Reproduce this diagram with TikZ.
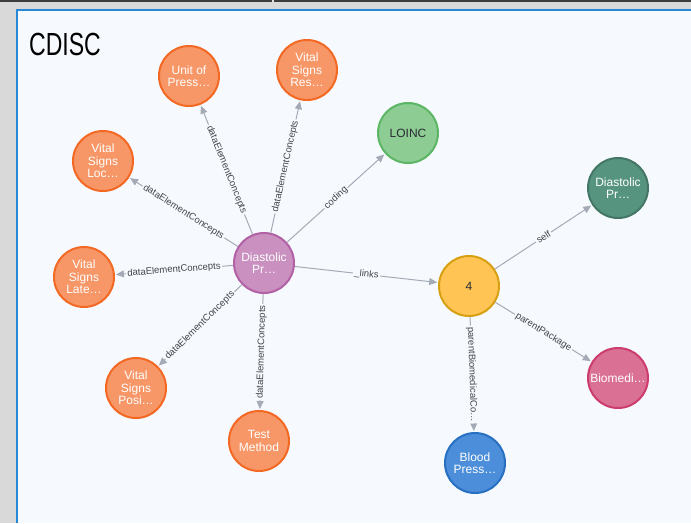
\documentclass[tikz,border=0pt]{standalone}
\usepackage{fontspec}
\setmainfont{Liberation Sans}
\newfontfamily\titlefont[FakeStretch=0.72]{Liberation Sans}
\usetikzlibrary{arrows.meta}

% frame and canvas colours
\definecolor{panelbg}{RGB}{246,250,254}
\definecolor{framegray}{RGB}{217,217,217}
\definecolor{topbar}{RGB}{60,60,60}
\definecolor{frameblue}{RGB}{40,136,214}
% graph colours
\definecolor{edgegray}{RGB}{165,171,182}
\definecolor{labelgray}{RGB}{68,68,72}
\definecolor{darktext}{RGB}{42,44,52}
\definecolor{orangeF}{HTML}{F79767}\definecolor{orangeD}{HTML}{F36924}
\definecolor{purpleF}{HTML}{C990C0}\definecolor{purpleD}{HTML}{B261A5}
\definecolor{greenF}{HTML}{8DCC93}\definecolor{greenD}{HTML}{5DB665}
\definecolor{yellowF}{HTML}{FFC454}\definecolor{yellowD}{HTML}{D7A013}
\definecolor{teal}{HTML}{569480}\definecolor{tealD}{HTML}{447666}
\definecolor{pinkF}{HTML}{DA7194}\definecolor{pinkD}{HTML}{CC3C6C}
\definecolor{blueF}{HTML}{4C8EDA}\definecolor{blueD}{HTML}{2870C2}

\tikzset{
  gnode/.style={circle, minimum size=60pt, inner sep=0pt, line width=2pt,
    align=center, text=white, font=\fontsize{12}{12.5}\selectfont},
  orangenode/.style={gnode, fill=orangeF, draw=orangeD},
  purplenode/.style={gnode, fill=purpleF, draw=purpleD},
  greennode/.style={gnode, fill=greenF, draw=greenD, text=darktext},
  yellownode/.style={gnode, fill=yellowF, draw=yellowD, text=darktext},
  tealnode/.style={gnode, fill=teal, draw=tealD},
  pinknode/.style={gnode, fill=pinkF, draw=pinkD},
  bluenode/.style={gnode, fill=blueF, draw=blueD},
  rel/.style={draw=edgegray, line width=1pt,
    -{Triangle[length=8pt,width=7pt]}, shorten >=1pt},
  elabel/.style={midway, sloped, fill=panelbg, inner sep=1.5pt,
    text=labelgray, font=\fontsize{9.5}{10}\selectfont}
}

\begin{document}
\begin{tikzpicture}[x=1pt,y=-1pt]
\useasboundingbox (0,0) rectangle (691,523);

% window frame
\fill[framegray] (0,0) rectangle (691,523);
\fill[topbar] (0,0) rectangle (691,2);
\fill[framegray!80!white] (272,0) rectangle (274,2);
\fill[panelbg] (17,10) rectangle (691,523);
\draw[frameblue, line width=2pt] (17,523) -- (17,10) -- (691,10);

% title
\node[anchor=base west, inner sep=0pt, text=black,
  font=\titlefont\fontsize{32}{32}\selectfont] (title) at (29,55) {CDISC};

% nodes
\node[purplenode] (diast)  at (264,263) {Diastolic\\Pr…};
\node[orangenode] (unit)   at (189,76)  {Unit of\\Press…};
\node[orangenode] (vres)   at (307,70)  {Vital\\Signs\\Res…};
\node[greennode]  (loinc)  at (408,133) {LOINC};
\node[orangenode] (vloc)   at (103,161) {Vital\\Signs\\Loc…};
\node[orangenode] (vlate)  at (84,277)  {Vital\\Signs\\Late…};
\node[orangenode] (vposi)  at (136,388) {Vital\\Signs\\Posi…};
\node[orangenode] (test)   at (259,441) {Test\\Method};
\node[yellownode] (four)   at (469,286) {4};
\node[tealnode]   (dgreen) at (618,188) {Diastolic\\Pr…};
\node[pinknode]   (biomed) at (618,378) {Biomedi…};
\node[bluenode]   (blood)  at (475,463) {Blood\\Press…};

% relationships
\draw[rel] (diast) -- node[elabel] {dataElementConcepts} (unit);
\draw[rel] (diast) -- node[elabel] {dataElementConcepts} (vres);
\draw[rel] (diast) -- node[elabel] {coding} (loinc);
\draw[rel] (diast) -- node[elabel] {dataElementConcepts} (vloc);
\draw[rel] (diast) -- node[elabel] {dataElementConcepts} (vlate);
\draw[rel] (diast) -- node[elabel] {dataElementConcepts} (vposi);
\draw[rel] (diast) -- node[elabel] {dataElementConcepts} (test);
\draw[rel] (diast) -- node[elabel] {\_links} (four);
\draw[rel] (four) -- node[elabel] {self} (dgreen);
\draw[rel] (four) -- node[elabel] {parentPackage} (biomed);
\draw[rel] (four) -- node[elabel] {parentBiomedicalCo…} (blood);
\end{tikzpicture}
\end{document}
